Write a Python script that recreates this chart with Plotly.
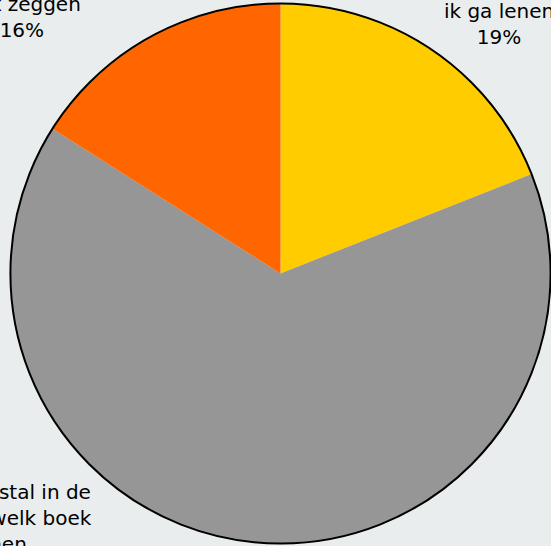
import plotly.graph_objects as go

categories = [
    "Ik weet op voorhand welk boek<br>ik ga lenen",
    "Ik kijk in de uitstal in de<br>bib en kies ik welk boek<br>ik ga lenen",
    "Weet ik niet / wil ik<br>niet zeggen",
]
values = [19, 65, 16]
colors = ["#FFCC00", "#969696", "#FF6600"]
label_x = [0.9060, -0.0508, 0.0399]
label_y = [1.053, 0.1245, 1.066]

W, H = 551, 546
dom_x = [10.5 / W, 550.5 / W]
dom_y = [2.5 / H, 542.5 / H]

fig = go.Figure()
fig.add_trace(go.Pie(
    labels=categories, values=values, sort=False, direction="clockwise",
    rotation=0, marker=dict(colors=colors, line=dict(width=0)),
    textinfo="none", hoverinfo="label+percent", showlegend=False,
    domain=dict(x=dom_x, y=dom_y),
))
fig.add_trace(go.Pie(
    labels=["rand"], values=[1], sort=False,
    marker=dict(colors=["rgba(0,0,0,0)"], line=dict(color="#000000", width=2)),
    textinfo="none", hoverinfo="skip", showlegend=False,
    domain=dict(x=dom_x, y=dom_y),
))

total = sum(values)
for cat, v, x, y in zip(categories, values, label_x, label_y):
    fig.add_annotation(
        text=f"{cat}<br>{round(100 * v / total)}%",
        x=x, y=y, xref="paper", yref="paper",
        xanchor="center", yanchor="top", align="center",
        showarrow=False, font=dict(family="DejaVu Sans", size=20, color="#000000"),
    )

fig.update_layout(
    width=W, height=H, margin=dict(l=0, r=0, t=0, b=0),
    paper_bgcolor="#E9EDED", plot_bgcolor="#E9EDED",
)
fig.write_html(
    "out.html",
    config={"displayModeBar": False},
    post_script="document.body.style.margin='0';document.body.style.background='#E9EDED';",
)
